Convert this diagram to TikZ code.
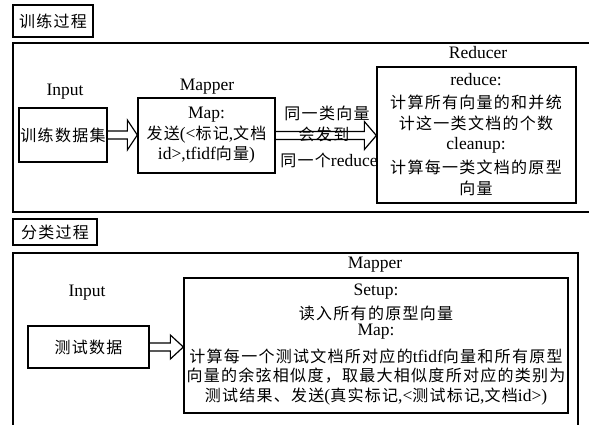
\documentclass[tikz,border=0pt]{standalone}
\usepackage{fontspec}
\setmainfont{Liberation Serif}
\newfontfamily\cjkf[LetterSpace=8]{Noto Sans CJK SC}
\usetikzlibrary{calc}
\newcommand{\zhs}[1]{{\fontsize{16}{18}\selectfont\cjkf #1}}
\newcommand{\hollowarrow}[5]{%
  \draw[line width=1.2pt,line join=miter] let \p1=(#1), \p2=(#2) in
    (\x1,\y1+#3) -- (\x2-#5,\y1+#3) -- (\x2-#5,\y1+#4) -- (\x2,\y1)
    -- (\x2-#5,\y1-#4) -- (\x2-#5,\y1-#3) -- (\x1,\y1-#3);}
\tikzset{
  box/.style={draw,line width=1.3pt,rectangle,inner sep=0pt},
  txt/.style={inner sep=0pt,font=\fontsize{17.5}{19}\selectfont},
  frame/.style={line width=1.1pt},
}
\begin{document}
\begin{tikzpicture}[x=1pt,y=-1pt]
\useasboundingbox (0,0) rectangle (589,424);
% ---------- training part ----------
\node[box,minimum width=80,minimum height=32] (t1) at (53,21) {\zhs{训练过程}};
\draw[frame] (590,43) -- (13,43) -- (13,212) -- (590,212);

\node[txt] (in1) at (65,92) {Input};
\node[box,minimum width=88,minimum height=54] (train) at (63,135) {};
\node[txt] (traint) at (train.center) {\zhs{训练数据集}};

\node[txt] (m1l) at (207,87) {Mapper};
\node[box,minimum width=137,minimum height=75] (map1) at (206.5,135.5) {};
\node[txt] (m1a) at (206.5,115) {Map:};
\node[txt] (m1b) at (206.5,135) {\zhs{发送}(<\zhs{标记},\zhs{文档}};
\node[txt] (m1c) at (206.5,155) {id>,tfidf\zhs{向量})};

\node[txt] (rl) at (478,53) {Reducer};
\node[box,minimum width=199,minimum height=136] (red) at (476.5,135) {};
\node[txt] (r1) at (476,80) {reduce:};
\node[txt] (r2) at (476,102) {\zhs{计算所有向量的和并统}};
\node[txt] (r3) at (476,123) {\zhs{计这一类文档的个数}};
\node[txt] (r4) at (476,145) {cleanup:};
\node[txt] (r5) at (476,167) {\zhs{计算每一类文档的原型}};
\node[txt] (r6) at (476,188) {\zhs{向量}};

\hollowarrow{train.east}{map1.west}{4}{15}{10}
\hollowarrow{map1.east}{red.west}{4}{14}{12}
\node[txt] (a1) at (327,113) {\zhs{同一类向量}};
\node[txt] (a2) at (324,134) {\zhs{会发到}};
\node[txt] (a3) at (329,160) {\zhs{同一个}reduce};

% ---------- classification part ----------
\node[box,minimum width=84,minimum height=26] (t2) at (55,232) {\zhs{分类过程}};
\draw[frame] (13,426) -- (13,253) -- (578,253) -- (578,426);

\node[txt] (in2) at (87,293) {Input};
\node[box,minimum width=121,minimum height=42] (test) at (88.5,347) {};
\node[txt] (testt) at (test.center) {\zhs{测试数据}};

\node[txt] (m2l) at (375,265) {Mapper};
\node[box,minimum width=384,minimum height=135] (map2) at (376,345.5) {};
\node[txt] (s1) at (376,292) {Setup:};
\node[txt] (s2) at (376,313) {\zhs{读入所有的原型向量}};
\node[txt] (s3) at (376,332) {Map:};
\node[txt] (s4) at (376,356) {\zhs{计算每一个测试文档所对应的}tfidf\zhs{向量和所有原型}};
\node[txt] (s5) at (376,376) {\zhs{向量的余弦相似度，取最大相似度所对应的类别为}};
\node[txt] (s6) at (376,397) {\zhs{测试结果、发送}(\zhs{真实标记},<\zhs{测试标记},\zhs{文档}id>)};

\hollowarrow{test.east}{map2.west}{4}{12}{13}
\end{tikzpicture}
\end{document}
